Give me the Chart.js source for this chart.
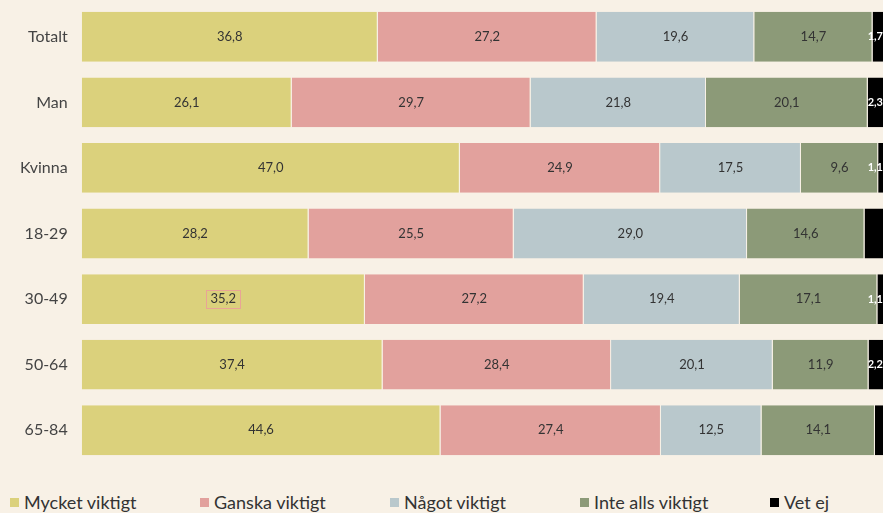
<!DOCTYPE html>
<html lang="sv">
<head>
<meta charset="UTF-8">
<title>Viktigt</title>
<script src="https://cdn.jsdelivr.net/npm/chart.js"></script>
<style>
  html, body { margin: 0; padding: 0; background: #f8f1e6; overflow: hidden; }
  #wrap { position: absolute; left: 0; top: 0; width: 883px; height: 467px; }
  #legend { position: absolute; left: 10px; top: 491px; display: flex; font-family: Lato, "Noto Sans", sans-serif; font-size: 18px; color: #333; }
  #legend div { width: 190px; display: flex; align-items: center; white-space: nowrap; }
  #legend span { display: inline-block; width: 9px; height: 9px; margin-right: 5px; }
</style>
</head>
<body>
<div id="wrap"><canvas id="myChart"></canvas></div>
<div id="legend"></div>

<script>
const categories = ['Totalt', 'Man', 'Kvinna', '18-29', '30-49', '50-64', '65-84'];
const seriesNames = ['Mycket viktigt', 'Ganska viktigt', 'Något viktigt', 'Inte alls viktigt', 'Vet ej'];
const mycketViktigt = [36.8, 26.1, 47.0, 28.2, 35.2, 37.4, 44.6];
const ganskaViktigt = [27.2, 29.7, 24.9, 25.5, 27.2, 28.4, 27.4];
const nagotViktigt = [19.6, 21.8, 17.5, 29.0, 19.4, 20.1, 12.5];
const inteAllsViktigt = [14.7, 20.1, 9.6, 14.6, 17.1, 11.9, 14.1];
const vetEj = [1.7, 2.3, 1.1, 2.7, 1.1, 2.2, 1.4];
const vetEjShown = [true, true, true, false, true, true, false];
const colors = ['#dbd17c', '#e2a19d', '#b9c8cc', '#8c9a78', '#000000'];
// the picture is cut off on the right, just before 100
const visibleMax = 99.6;

const allSeries = [mycketViktigt, ganskaViktigt, nagotViktigt, inteAllsViktigt, vetEj];

// labels inside the segments
const valueLabels = {
    id: 'valueLabels',
    afterDatasetsDraw(chart) {
        const ctx = chart.ctx;
        ctx.save();
        ctx.textAlign = 'center';
        ctx.textBaseline = 'middle';
        chart.data.datasets.forEach((ds, i) => {
            const meta = chart.getDatasetMeta(i);
            meta.data.forEach((bar, j) => {
                const v = ds.data[j];
                const last = i === 4;
                if (last && !vetEjShown[j]) return;
                const txt = v.toFixed(1).replace('.', ',');
                ctx.font = last ? 'bold 11px Lato, sans-serif' : '13px Lato, "Noto Sans", sans-serif';
                const w = ctx.measureText(txt).width;
                let x = (bar.x + bar.base) / 2;
                // keep the small labels inside the canvas
                x = Math.min(x, chart.width - w / 2);
                ctx.fillStyle = last ? '#ffffff' : '#333333';
                ctx.fillText(txt, x, bar.y);
                if (i === 0 && j === 4) {
                    ctx.strokeStyle = '#e9a496';
                    ctx.lineWidth = 1;
                    ctx.strokeRect(Math.round(x - w / 2 - 4) + 0.5, Math.round(bar.y - 9) + 0.5, Math.round(w + 8), 18);
                }
            });
        });
        ctx.restore();
    }
};

const ctx = document.getElementById('myChart').getContext('2d');
const myChart = new Chart(ctx, {
    type: 'bar',
    data: {
        labels: categories,
        datasets: allSeries.map((d, i) => ({
            label: seriesNames[i],
            data: d,
            backgroundColor: colors[i],
            borderColor: '#f8f1e6',
            borderWidth: { right: 1 },
            borderSkipped: false,
            barPercentage: 0.76,
            categoryPercentage: 1
        }))
    },
    options: {
        indexAxis: 'y',
        responsive: true,
        maintainAspectRatio: false,
        animation: false,
        layout: { padding: { top: 4, bottom: 4, right: 0, left: 6 } },
        plugins: { legend: { display: false }, tooltip: { enabled: false } },
        scales: {
            x: { stacked: true, min: 0, max: visibleMax, display: false },
            y: {
                stacked: true,
                grid: { display: false, drawTicks: false },
                border: { display: false },
                ticks: { color: '#444', padding: 14, font: { family: 'Lato, "Noto Sans", sans-serif', size: 16 } },
                afterFit(scale) {
                    // no extra room above/below for the edge labels
                    scale.paddingTop = 0;
                    scale.paddingBottom = 0;
                }
            }
        }
    },
    plugins: [valueLabels]
});

const legend = document.getElementById('legend');
seriesNames.forEach((n, i) => {
    const item = document.createElement('div');
    item.innerHTML = '<span style="background:' + colors[i] + '"></span>' + n;
    legend.appendChild(item);
});
</script>
</body>
</html>
